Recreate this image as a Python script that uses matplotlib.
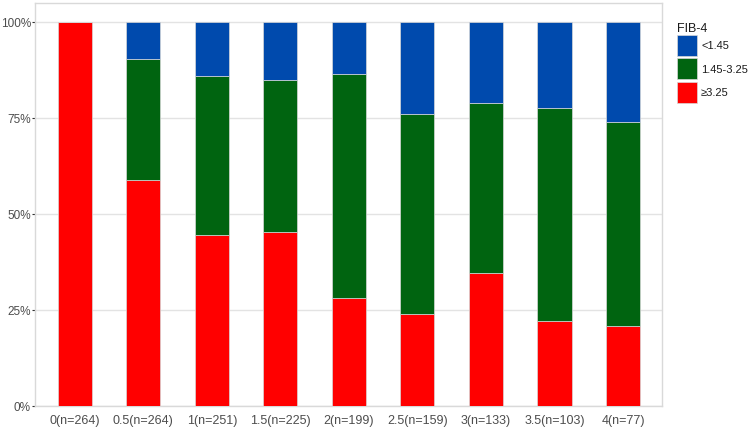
import matplotlib
matplotlib.use("Agg")
import matplotlib.pyplot as plt
import numpy as np
from matplotlib.ticker import FuncFormatter
from matplotlib.patches import Rectangle

plt.rcParams['font.family'] = ['Liberation Sans', 'DejaVu Sans']

categories = ["0(n=264)", "0.5(n=264)", "1(n=251)", "1.5(n=225)", "2(n=199)",
              "2.5(n=159)", "3(n=133)", "3.5(n=103)", "4(n=77)"]
high = [100.0, 58.7, 44.6, 45.4, 28.1, 23.9, 34.5, 22.2, 20.8]      # >=3.25
mid = [0.0, 31.7, 41.2, 39.4, 58.4, 52.1, 44.5, 55.4, 53.1]          # 1.45-3.25
low = [100 - h - m for h, m in zip(high, mid)]                       # <1.45
series_labels = ["<1.45", "1.45-3.25", "\u22653.25"]
legend_title = "FIB-4"

c_low, c_mid, c_high = "#004AAD", "#006410", "#FF0000"
colors = [c_low, c_mid, c_high]

W, H = 750, 431
fig = plt.figure(figsize=(7.5, 4.31), dpi=100)
ax = fig.add_axes([35 / W, 24 / H, 627 / W, 403 / H])

x = np.arange(len(categories))
h = np.array(high) / 100
m = np.array(mid) / 100
l = np.array(low) / 100
w = 0.5
ec = "#d8d8d8"
ax.bar(x, h, w, color=c_high, edgecolor=ec, linewidth=0.5, zorder=3)
ax.bar(x, m, w, bottom=h, color=c_mid, edgecolor=ec, linewidth=0.5, zorder=3)
ax.bar(x, l, w, bottom=h + m, color=c_low, edgecolor=ec, linewidth=0.5, zorder=3)

ax.set_xlim(-0.58, 8.57)
ax.set_ylim(0, 1.049)
ax.set_yticks([0, 0.25, 0.5, 0.75, 1.0])
ax.yaxis.set_major_formatter(FuncFormatter(lambda v, p: f"{int(round(v*100))}%"))
ax.set_xticks(x)
ax.set_xticklabels(categories)
ax.grid(axis='y', color='#e3e3e3', linewidth=1, zorder=0)
ax.set_axisbelow(True)
for s in ax.spines.values():
    s.set_color('#d9d9d9')
    s.set_linewidth(1)
ax.tick_params(axis='y', length=2.5, color='#333333', labelcolor='#4d4d4d', labelsize=8.5, pad=0.5)
ax.tick_params(axis='x', length=0, labelcolor='#4d4d4d', labelsize=9, pad=6)

# legend (drawn in figure pixel positions)
fig.text(677 / W, 1 - 29.5 / H, legend_title, fontsize=9, color='#1a1a1a',
         ha='left', va='center')
box_x, box_w, box_h, gap = 677, 20, 21, 2.3
top0 = 36
for i, (lab, col) in enumerate(zip(series_labels, colors)):
    y_top = top0 + i * (box_h + gap)
    fig.patches.append(Rectangle((box_x / W, 1 - (y_top + box_h) / H), box_w / W, box_h / H,
                                 transform=fig.transFigure, facecolor=col,
                                 edgecolor='#d8d8d8', linewidth=0.5))
    fig.text(701 / W, 1 - (y_top + box_h / 2) / H, lab, fontsize=8, color='#1a1a1a',
             ha='left', va='center')

fig.savefig("out.png", dpi=100)
